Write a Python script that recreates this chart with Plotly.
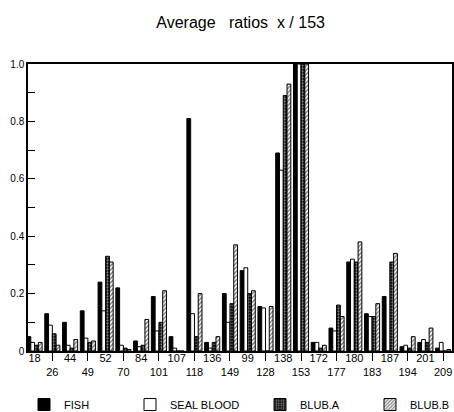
import plotly.graph_objects as go

categories = ["18", "26", "44", "49", "52", "70", "84", "101", "107", "118", "136", "149",
              "99", "128", "138", "153", "172", "177", "180", "183", "187", "194", "201", "209"]

fish = [0.05, 0.13, 0.10, 0.14, 0.24, 0.22, 0.035, 0.19, 0.05, 0.81, 0.03, 0.20,
        0.28, 0.155, 0.69, 1.0, 0.03, 0.08, 0.31, 0.13, 0.19, 0.015, 0.03, 0.01]
seal_blood = [0.03, 0.09, 0.02, 0.045, 0.14, 0.02, 0.015, 0.07, 0.01, 0.13, 0.01, 0.10,
              0.29, 0.15, 0.63, 1.0, 0.03, 0.07, 0.32, 0.12, 0.0, 0.02, 0.04, 0.03]
blub_a = [0.02, 0.06, 0.01, 0.03, 0.33, 0.01, 0.02, 0.10, 0.0, 0.05, 0.03, 0.165,
          0.20, 0.0, 0.89, 1.0, 0.01, 0.16, 0.31, 0.12, 0.31, 0.01, 0.03, 0.0]
blub_b = [0.03, 0.02, 0.04, 0.035, 0.31, 0.005, 0.11, 0.21, 0.0, 0.20, 0.05, 0.37,
          0.21, 0.155, 0.93, 1.0, 0.02, 0.12, 0.38, 0.165, 0.34, 0.05, 0.08, 0.005]

y_tickvals = [0, 0.1, 0.2, 0.3, 0.4, 0.5, 0.6, 0.7, 0.8, 0.9, 1.0]
y_ticktext = ["0", "", "0.2", "", "0.4", "", "0.6", "", "0.8", "", "1.0"]

idx = list(range(len(categories)))
x_ticktext = [c if i % 2 == 0 else "<br>" + c for i, c in enumerate(categories)]
odd_idx = [i for i in idx if i % 2 == 1]

FONT = "Liberation Sans, Arial, sans-serif"

fig = go.Figure()
fig.add_trace(go.Bar(x=idx, y=fish, name="FISH", legend="legend",
                     marker=dict(color="black", line=dict(color="black", width=1))))
fig.add_trace(go.Bar(x=idx, y=seal_blood, name="SEAL BLOOD", legend="legend2",
                     marker=dict(color="white", line=dict(color="black", width=1))))
fig.add_trace(go.Bar(x=idx, y=blub_a, name="BLUB.A", legend="legend3",
                     marker=dict(color="black", line=dict(color="black", width=1),
                                 pattern=dict(shape=".", fgcolor="white", bgcolor="black",
                                              size=3, solidity=0.45))))
fig.add_trace(go.Bar(x=idx, y=blub_b, name="BLUB.B", legend="legend4",
                     marker=dict(color="black", line=dict(color="black", width=1),
                                 pattern=dict(shape="/", fgcolor="black", bgcolor="white",
                                              size=3, solidity=0.5))))
# invisible helper trace so the secondary x axis (group separator ticks) is drawn
fig.add_trace(go.Scatter(x=idx, y=fish, xaxis="x2", mode="markers",
                         marker=dict(opacity=0), showlegend=False, hoverinfo="skip"))

leg_common = dict(orientation="h", xanchor="left", y=-0.136, yanchor="top",
                  font=dict(size=11, family=FONT), itemwidth=30,
                  bgcolor="rgba(0,0,0,0)")

fig.update_layout(
    width=454, height=412,
    margin=dict(l=28, r=2, t=64, b=61, autoexpand=False),
    paper_bgcolor="white", plot_bgcolor="white",
    barmode="group", bargap=0.15, bargroupgap=0.0,
    font=dict(family=FONT, color="black", size=11),
    title=dict(text="Average\u00a0\u00a0 ratios\u00a0 x / 153", x=0.53, xanchor="center",
               y=0.945, yanchor="middle", font=dict(size=16, family=FONT, color="black")),
    showlegend=True,
    legend=dict(x=-0.0094, **leg_common),
    legend2=dict(x=0.2406, **leg_common),
    legend3=dict(x=0.5472, **leg_common),
    legend4=dict(x=0.8066, **leg_common),
    xaxis=dict(range=[-0.37, 23.5], tickmode="array", tickvals=idx, ticktext=x_ticktext,
               tickangle=0, ticks="", ticklabelstandoff=-4, showgrid=False, zeroline=False,
               showline=True, linecolor="black", linewidth=1.5, mirror=True,
               tickfont=dict(size=11), automargin=False, fixedrange=True),
    xaxis2=dict(overlaying="x", anchor="y", side="bottom", automargin=False,
                range=[-0.37, 23.5], tickmode="array", tickvals=odd_idx,
                ticks="outside", ticklen=9, tickwidth=1, tickcolor="black",
                showticklabels=False, showgrid=False, zeroline=False, showline=False),
    yaxis=dict(range=[0, 1.0], tickmode="array", tickvals=y_tickvals, ticktext=y_ticktext,
               ticks="inside", ticklen=7, tickwidth=1, tickcolor="black", automargin=False,
               showgrid=False, zeroline=False, showline=True, linecolor="black",
               linewidth=1.5, mirror=True, tickfont=dict(size=10)),
)

fig.write_html("out.html")
